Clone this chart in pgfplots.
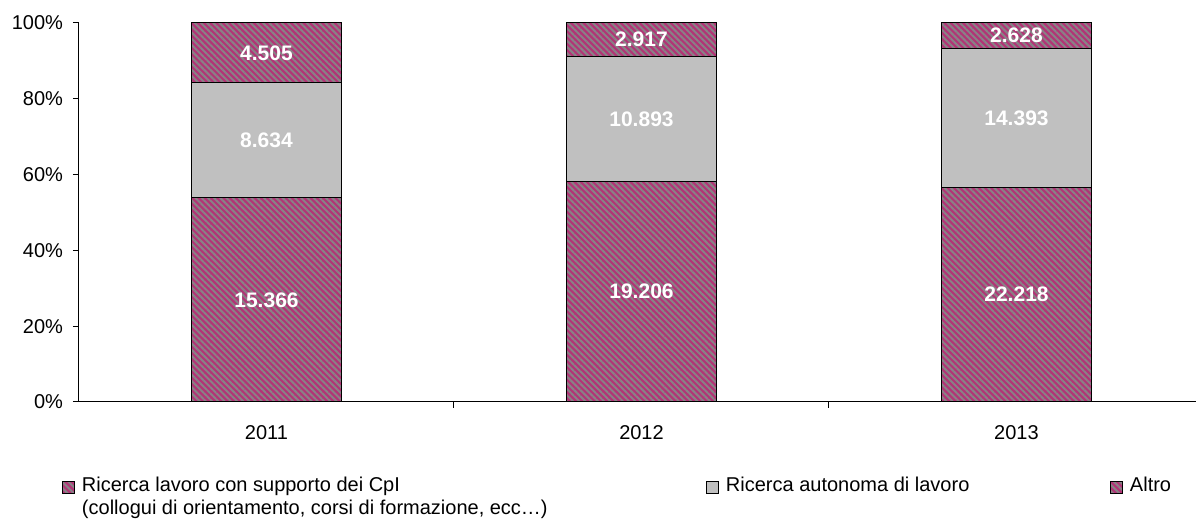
\documentclass[border=0pt]{standalone}
\usepackage{fontspec}
\setmainfont{Liberation Sans}
\usepackage{pgfplots}
\pgfplotsset{compat=1.18}
\usetikzlibrary{patterns.meta}
\definecolor{maroon}{RGB}{178,52,118}
\definecolor{hatch}{RGB}{136,130,134}
\definecolor{lgray}{RGB}{192,192,192}

\pgfplotstableread{
x pct
0 53.91
1 58.17
2 56.62
}\cpi
\pgfplotstableread{
x pct
0 30.29
1 32.99
2 36.68
}\auto
\pgfplotstableread{
x pct
0 15.80
1 8.84
2 6.70
}\altro
\pgfplotstableread{
x y lab
0 26.95 15.366
1 29.09 19.206
2 28.31 22.218
0 69.06 8.634
1 74.67 10.893
2 74.96 14.393
0 92.10 4.505
1 95.58 2.917
2 96.65 2.628
}\labels

\begin{document}
\begin{tikzpicture}
\pgfplotsset{
  common/.style={
    width=558.5pt, height=189.5pt, scale only axis,
    at={(0,0)}, anchor=south west,
    xmin=-0.5, xmax=2.4787, ymin=0, ymax=100,
  },
  hatched/.style={fill=maroon, draw=black, line width=0.5pt,
    postaction={pattern={Lines[angle=-45,distance=2.2pt,line width=1.0pt]}, pattern color=hatch}},
}
\begin{axis}[
  common,
  ybar stacked, bar width=0.4,
  axis x line=bottom, axis y line=left,
  axis line style={black, line width=0.5pt, -},
  tick align=outside, major tick length=3pt,
  tick style={black, line width=0.5pt},
  ytick={0,20,40,60,80,100},
  yticklabels={0\%,20\%,40\%,60\%,80\%,100\%},
  xtick={0.5,1.5}, xticklabels={},
  extra x ticks={0,1,2},
  extra x tick labels={2011,2012,2013},
  extra x tick style={major tick length=0pt, xticklabel style={yshift=-8pt}},
  yticklabel style={xshift=-1.5pt},
  /pgf/number format/assume math mode=true,
  legend columns=3,
  legend style={at={(0,0)}, anchor=north west, xshift=-8.5pt, yshift=-37.5pt,
    draw=none, fill=none, inner sep=0pt, outer sep=0pt, column sep=3.5pt,
    cells={anchor=north west}, nodes={inner sep=0pt, outer sep=0pt}},
  legend image code/.code={\path (0pt,0pt); \draw[#1] (0pt,-2pt) rectangle (6pt,-8pt);},
]
\addplot[hatched] table[x=x, y=pct] {\cpi};
\addlegendentry{\parbox[t]{308.5pt}{\fontsize{10}{11.5}\selectfont Ricerca lavoro con supporto dei CpI\\(collogui di orientamento, corsi di formazione, ecc…)}}
\addplot[fill=lgray, draw=black, line width=0.5pt] table[x=x, y=pct] {\auto};
\addlegendentry{\makebox[188.5pt][l]{Ricerca autonoma di lavoro}}
\addplot[hatched] table[x=x, y=pct] {\altro};
\addlegendentry{Altro}
\end{axis}
\begin{axis}[common, hide axis]
\addplot[draw=none, nodes near coords, point meta=explicit symbolic,
  every node near coord/.style={anchor=center, text=white, font=\fontsize{10.5}{12}\selectfont\bfseries}]
  table[x=x, y=y, meta=lab] {\labels};
\end{axis}
\pgfresetboundingbox
\useasboundingbox (-39.5pt,-58.5pt) rectangle (558.5pt,201pt);
\end{tikzpicture}
\end{document}
